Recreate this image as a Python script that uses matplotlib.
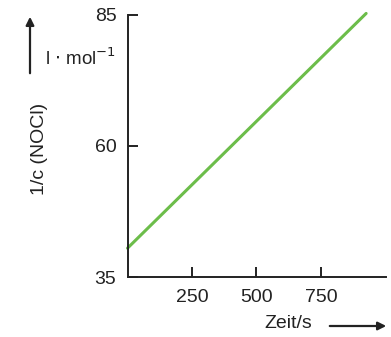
import numpy as np
import matplotlib.pyplot as plt

plt.rcParams['font.family'] = ['Liberation Sans', 'DejaVu Sans']

# data: 1/c(NOCl) against time (straight line, second order)
zeit = [0, 925]
inv_c = [40.5, 85.3]
xticks = [250, 500, 750]
yticks = [35, 60, 85]

W, H = 391, 337
fig = plt.figure(figsize=(W / 100, H / 100), dpi=100)
ax = fig.add_axes([127.5 / W, 1 - 277 / H, (386 - 127.5) / W, (277 - 15) / H])

ax.plot(zeit, inv_c, color='#6cbd4a', lw=2.2, solid_capstyle='round', clip_on=False)

ax.set_xlim(0, 1002)
ax.set_ylim(35, 85)
ax.set_xticks(xticks)
ax.set_yticks(yticks)
ax.spines['top'].set_visible(False)
ax.spines['right'].set_visible(False)
for s in ('left', 'bottom'):
    ax.spines[s].set_linewidth(1.4)
    ax.spines[s].set_color('#222222')
ax.tick_params(direction='in', length=7, width=1.4, color='#222222',
               labelsize=14, labelcolor='#222222')
ax.tick_params(axis='x', pad=9)
ax.tick_params(axis='y', pad=8)

# axis labels placed like the printed figure
fig.text(40 / W, 1 - 149 / H, '1/c (NOCl)', rotation=90, ha='center',
         va='center', fontsize=14, color='#222222')
fig.text(81 / W, 1 - 58 / H, r'l $\cdot$ mol$^{-1}$', ha='center', va='center',
         fontsize=13.5, color='#222222')
fig.text(288 / W, 1 - 323 / H, 'Zeit/s', ha='center', va='center',
         fontsize=14, color='#222222')

fig.patches.append(plt.matplotlib.patches.FancyArrowPatch(
    (30 / W, 1 - 76 / H), (30 / W, 1 - 14 / H), transform=fig.transFigure,
    arrowstyle='-|>', mutation_scale=12, lw=1.6, color='#222222'))
fig.patches.append(plt.matplotlib.patches.FancyArrowPatch(
    (327 / W, 1 - 326 / H), (389 / W, 1 - 326 / H), transform=fig.transFigure,
    arrowstyle='-|>', mutation_scale=12, lw=1.6, color='#222222'))

fig.savefig('out.png', dpi=100)
